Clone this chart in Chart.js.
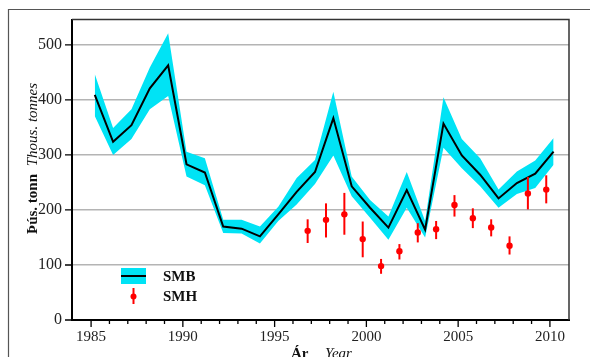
<!DOCTYPE html>
<html>
<head>
<meta charset="utf-8">
<script src="https://cdn.jsdelivr.net/npm/chart.js@4.4.1/dist/chart.umd.min.js"></script>
<style>
  body { margin: 0; background: #fff; }
  #wrap { width: 590px; height: 357px; position: relative; }
</style>
</head>
<body>
<div id="wrap"><canvas id="chart"></canvas></div>
<script>
// SMB (spring survey) - index with confidence band
const smbYears = [1985, 1986, 1987, 1988, 1989, 1990, 1991, 1992, 1993, 1994, 1995, 1996, 1997,
                  1998, 1999, 2000, 2001, 2002, 2003, 2004, 2005, 2006, 2007, 2008, 2009, 2010];
const smbValues = [409, 324, 354, 421, 463, 283, 268, 170, 166, 152, 192, 233, 269,
                   367, 243, 204, 168, 236, 164, 357, 299, 264, 221, 249, 266, 306];
const smbLow = [371, 300, 329, 383, 407, 261, 245, 158, 157, 139, 180, 210, 247,
                299, 225, 186, 146, 204, 150, 313, 276, 243, 204, 229, 240, 282];
const smbHigh = [447, 349, 383, 459, 521, 306, 294, 182, 182, 170, 206, 258, 291,
                 415, 261, 218, 188, 269, 180, 405, 329, 294, 237, 270, 290, 331];

// SMH (autumn survey) - points with error bars
const smhYears = [1997, 1998, 1999, 2000, 2001, 2002, 2003, 2004, 2005, 2006, 2007, 2008, 2009, 2010];
const smhValues = [162, 182, 192, 147, 98, 125, 159, 165, 209, 185, 168, 135, 230, 237];
const smhLow = [140, 150, 155, 114, 84, 110, 141, 147, 188, 167, 152, 119, 201, 212];
const smhHigh = [183, 212, 231, 179, 111, 138, 176, 180, 227, 203, 183, 152, 260, 263];

const yTicks = [0, 100, 200, 300, 400, 500];
const xLabelYears = [1985, 1990, 1995, 2000, 2005, 2010];

const SMB_SHIFT = 0.2;   // smb plotted a bit right of the year tick
const SMH_SHIFT = -0.2;  // smh a bit left
const CYAN = '#00e3f5';
const SERIF = '"Liberation Serif", "DejaVu Serif", serif';

function pts(xs, ys, shift) {
    return xs.map((x, i) => ({x: x + shift, y: ys[i]}));
}

// draws ticks, borders, error bars, legend and axis titles
const extras = {
    id: 'extras',
    afterDatasetsDraw(chart) {
        const ctx = chart.ctx;
        const xs = chart.scales.x;
        const ys = chart.scales.y;

        // error bars for smh
        ctx.save();
        ctx.strokeStyle = '#ff0000';
        ctx.lineWidth = 2;
        for (let i = 0; i < smhYears.length; i++) {
            const px = xs.getPixelForValue(smhYears[i] + SMH_SHIFT);
            ctx.beginPath();
            ctx.moveTo(px, ys.getPixelForValue(smhLow[i]));
            ctx.lineTo(px, ys.getPixelForValue(smhHigh[i]));
            ctx.stroke();
        }
        ctx.restore();
    },
    afterDraw(chart) {
        const ctx = chart.ctx;
        const xs = chart.scales.x;
        const ys = chart.scales.y;
        const a = chart.chartArea;
        ctx.save();

        // outer frame
        ctx.strokeStyle = '#555';
        ctx.lineWidth = 1.2;
        ctx.beginPath();
        ctx.moveTo(8.5, 357);
        ctx.lineTo(8.5, 9.5);
        ctx.lineTo(590, 9.5);
        ctx.stroke();

        // top and right border of the plot
        ctx.strokeStyle = '#333';
        ctx.lineWidth = 1.5;
        ctx.beginPath();
        ctx.moveTo(a.left, a.top);
        ctx.lineTo(a.right, a.top);
        ctx.lineTo(a.right, a.bottom);
        ctx.stroke();

        // tick marks
        ctx.strokeStyle = '#000';
        ctx.lineWidth = 1.3;
        ctx.beginPath();
        yTicks.forEach(v => {
            const py = ys.getPixelForValue(v);
            ctx.moveTo(a.left - 7, py);
            ctx.lineTo(a.left, py);
        });
        for (let yr = 1985; yr <= 2010; yr++) {
            const px = xs.getPixelForValue(yr);
            const len = yr % 5 === 0 ? 7 : 4;
            ctx.moveTo(px, a.bottom);
            ctx.lineTo(px, a.bottom + len);
        }
        ctx.stroke();

        // legend
        ctx.fillStyle = CYAN;
        ctx.fillRect(121, 268, 25, 16);
        ctx.strokeStyle = '#000';
        ctx.lineWidth = 2;
        ctx.beginPath();
        ctx.moveTo(121, 276);
        ctx.lineTo(146, 276);
        ctx.stroke();
        ctx.strokeStyle = '#ff0000';
        ctx.beginPath();
        ctx.moveTo(133.5, 288);
        ctx.lineTo(133.5, 304);
        ctx.stroke();
        ctx.fillStyle = '#ff0000';
        ctx.beginPath();
        ctx.arc(133.5, 296.5, 3, 0, Math.PI * 2);
        ctx.fill();
        ctx.fillStyle = '#111';
        ctx.font = 'bold 15px ' + SERIF;
        ctx.textBaseline = 'middle';
        ctx.textAlign = 'left';
        ctx.fillText('SMB', 163, 277);
        ctx.fillText('SMH', 163, 297);

        // x axis title
        ctx.textBaseline = 'alphabetic';
        ctx.fillText('Ár', 291, 358);
        ctx.font = 'italic 15px ' + SERIF;
        ctx.fillText('Year', 325, 358);

        // y axis title, rotated
        ctx.translate(37, 234);
        ctx.rotate(-Math.PI / 2);
        ctx.font = 'bold 15px ' + SERIF;
        ctx.fillText('Þús. tonn', 0, 0);
        const w = ctx.measureText('Þús. tonn ').width;
        ctx.font = 'italic 15px ' + SERIF;
        ctx.fillText('Thous. tonnes', w + 4, 0);
        ctx.restore();
    }
};

const ctx = document.getElementById('chart');
const myChart = new Chart(ctx, {
    type: 'line',
    data: {
        datasets: [{
            label: 'high',
            data: pts(smbYears, smbHigh, SMB_SHIFT),
            borderWidth: 0,
            pointRadius: 0,
            backgroundColor: CYAN,
            fill: '+1',
            order: 3
        }, {
            label: 'low',
            data: pts(smbYears, smbLow, SMB_SHIFT),
            borderWidth: 0,
            pointRadius: 0,
            fill: false,
            order: 2
        }, {
            label: 'SMB',
            data: pts(smbYears, smbValues, SMB_SHIFT),
            borderColor: '#000',
            borderWidth: 2,
            pointRadius: 0,
            fill: false,
            order: 1
        }, {
            label: 'SMH',
            data: pts(smhYears, smhValues, SMH_SHIFT),
            showLine: false,
            pointRadius: 3.2,
            pointBorderWidth: 0,
            pointBackgroundColor: '#ff0000',
            fill: false,
            order: 0
        }]
    },
    options: {
        responsive: true,
        maintainAspectRatio: false,
        animation: false,
        layout: {
            padding: {top: 17, right: 21, left: 0, bottom: 0}
        },
        plugins: {
            legend: {display: false},
            tooltip: {enabled: false}
        },
        scales: {
            x: {
                type: 'linear',
                min: 1983.96,
                max: 2011.04,
                afterFit: s => { s.height = 37; },
                grid: {display: false, drawTicks: false},
                border: {display: true, color: '#000', width: 2},
                ticks: {
                    stepSize: 5,
                    includeBounds: false,
                    padding: 8,
                    color: '#222',
                    font: {family: SERIF, size: 15},
                    callback: v => xLabelYears.includes(v) ? String(v) : ''
                }
            },
            y: {
                min: 0,
                max: 546,
                afterFit: s => { s.width = 72; },
                grid: {
                    drawTicks: false,
                    color: c => (c.tick && c.tick.value === 0) ? 'rgba(0,0,0,0)' : '#b4b4b4',
                    lineWidth: 1.4
                },
                border: {display: true, color: '#000', width: 2},
                ticks: {
                    stepSize: 100,
                    includeBounds: false,
                    padding: 10,
                    color: '#222',
                    font: {family: SERIF, size: 16}
                }
            }
        }
    },
    plugins: [extras]
});
</script>
</body>
</html>
